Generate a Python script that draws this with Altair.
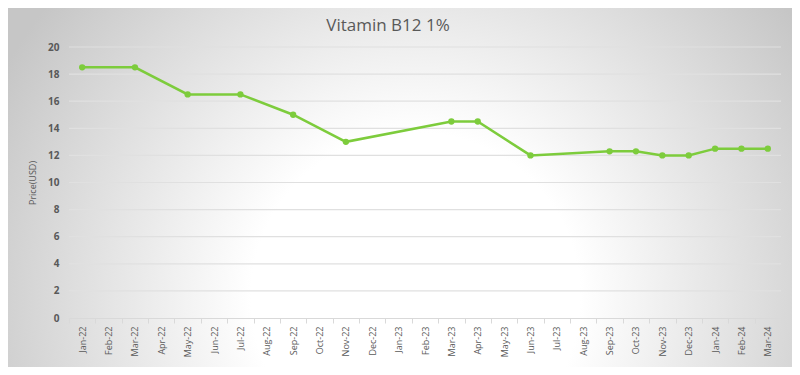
import altair as alt
import pandas as pd

months = ["Jan-22", "Feb-22", "Mar-22", "Apr-22", "May-22", "Jun-22", "Jul-22", "Aug-22",
          "Sep-22", "Oct-22", "Nov-22", "Dec-22", "Jan-23", "Feb-23", "Mar-23", "Apr-23",
          "May-23", "Jun-23", "Jul-23", "Aug-23", "Sep-23", "Oct-23", "Nov-23", "Dec-23",
          "Jan-24", "Feb-24", "Mar-24"]
point_months = ["Jan-22", "Mar-22", "May-22", "Jul-22", "Sep-22", "Nov-22", "Mar-23", "Apr-23",
                "Jun-23", "Sep-23", "Oct-23", "Nov-23", "Dec-23", "Jan-24", "Feb-24", "Mar-24"]
prices = [18.5, 18.5, 16.5, 16.5, 15.0, 13.0, 14.5, 14.5,
          12.0, 12.3, 12.3, 12.0, 12.0, 12.5, 12.5, 12.5]
y_ticks = [0, 2, 4, 6, 8, 10, 12, 14, 16, 18, 20]

df = pd.DataFrame({"Month": point_months, "Price": prices})
grid_df = pd.DataFrame({"Price": y_ticks[1:]})

W, H = 712, 271
PL, PT, PR, PB = 61, 39, 11, 49

y_scale = alt.Scale(domain=[0, 20], nice=False)

bg = alt.Chart(pd.DataFrame({"a": [0]})).mark_rect(
    clip=False,
    fill=alt.Gradient(
        gradient="radial",
        stops=[alt.GradientStop(color="#ffffff", offset=0.0),
               alt.GradientStop(color="#ffffff", offset=0.35),
               alt.GradientStop(color="#c6c6c6", offset=1.0)],
        x1=0.52, y1=0.64, r1=0.0, x2=0.52, y2=0.64, r2=0.6,
    ),
).encode(x=alt.value(-PL), x2=alt.value(W + PR), y=alt.value(-PT), y2=alt.value(H + PB))

y_enc = alt.Y("Price:Q", scale=y_scale,
              axis=alt.Axis(title="Price(USD)", values=y_ticks, titleFontSize=9,
                            titleFontWeight="normal", titleColor="#595959", titleFont="Open Sans",
                            titlePadding=10, labelFontSize=10, labelFontWeight="bold",
                            labelColor="#595959", labelFont="Open Sans", labelPadding=10,
                            labelOverlap=False, ticks=False, domain=False, grid=False, zindex=1))

grid = alt.Chart(grid_df).mark_rule(color="#e0e0e0", strokeWidth=1.2).encode(
    y=y_enc, x=alt.value(0), x2=alt.value(W)
)

title = alt.Chart(pd.DataFrame({"t": ["Vitamin B12 1%"]})).mark_text(
    font="Open Sans", fontSize=17, color="#595959", align="center", baseline="alphabetic", clip=False
).encode(text="t:N", x=alt.value(388 - 8 - PL), y=alt.value(31 - 8 - PT))

x_enc = alt.X("Month:O", sort=months,
              scale=alt.Scale(type="band", domain=months, paddingInner=0, paddingOuter=0),
              axis=alt.Axis(title=None, labelAngle=-90, labelFontSize=9, labelColor="#595959",
                            labelFont="Open Sans", tickBand="extent", tickColor="#d9d9d9",
                            tickSize=5, domainColor="#d9d9d9", labelPadding=3, grid=False,
                            labelBaseline="middle", labelAlign="right", labelOverlap=False,
                            zindex=1))

line = alt.Chart(df).mark_line(
    color="#7dcc3c", strokeWidth=2.5,
    point=alt.OverlayMarkDef(filled=True, fill="#7dcc3c", size=40, strokeWidth=0),
).encode(x=x_enc, y=y_enc)

chart = alt.layer(bg, grid, line, title).properties(
    width=W, height=H, autosize="none",
    padding={"left": PL, "top": PT, "right": PR, "bottom": PB},
    background="#d0d0d0",
).configure_view(stroke=None)

chart.save("out.html", embed_options={"renderer": "svg", "actions": False})
